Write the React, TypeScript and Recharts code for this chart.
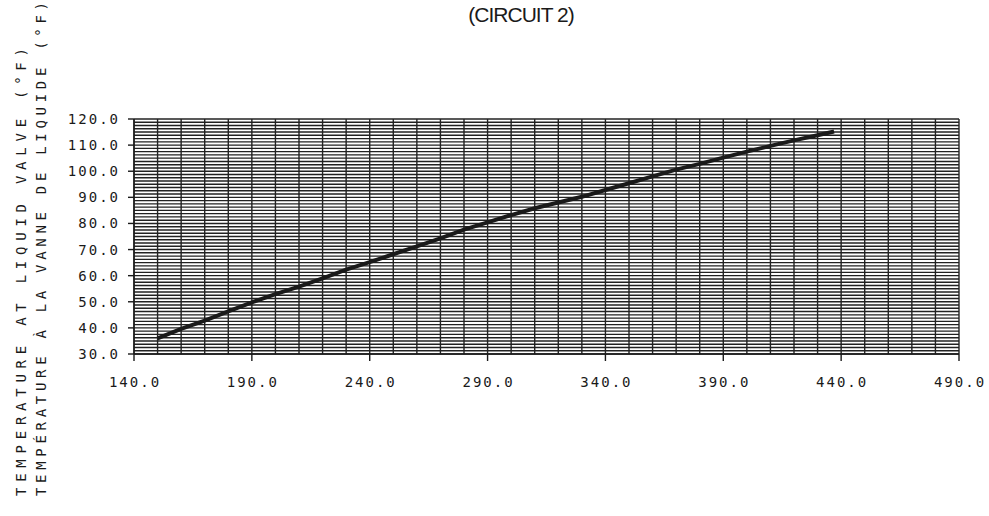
import { LineChart, Line, XAxis, YAxis, CartesianGrid } from "recharts";

// liquid line pressure vs temperature at liquid valve, circuit 2
const pressure = [150, 160, 170, 180, 190, 200, 210, 220, 230, 240, 250, 260, 270, 280, 290, 300, 310, 320, 330, 340, 350, 360, 370, 380, 390, 400, 410, 420, 430, 437];
const liquidTemp = [36.0, 39.6, 42.8, 46.3, 49.8, 52.9, 55.8, 59.0, 62.3, 65.2, 68.2, 71.2, 74.3, 77.6, 80.4, 83.2, 85.8, 88.0, 90.2, 92.8, 95.4, 98.0, 100.6, 102.8, 105.2, 107.5, 109.7, 111.8, 113.8, 115.2];

const xTicks = [140, 190, 240, 290, 340, 390, 440, 490];
const yTicks = [30, 40, 50, 60, 70, 80, 90, 100, 110, 120];
const xGrid = Array.from({ length: 36 }, (_, i) => 140 + i * 10);
const yGrid = Array.from({ length: 73 }, (_, i) => 30 + i * 1.25);

const title = "(CIRCUIT 2)";
const yLabelEn = "TEMPERATURE AT LIQUID VALVE (°F)";
const yLabelFr = "TEMPÉRATURE À LA VANNE DE LIQUIDE (°F)";

const data = pressure.map((p, i) => ({ p, t: liquidTemp[i] }));

const MONO = "'DejaVu Sans Mono', monospace";
const INK = "#1a1a1a";

const YTick = ({ x, y, payload }: any) => (
  <text x={x + 2} y={y} dy={5} textAnchor="end" fontFamily={MONO} fontSize={14} letterSpacing={2} fill={INK}>
    {Number(payload.value).toFixed(1)}
  </text>
);

const XTick = ({ x, y, payload }: any) => (
  <text x={x + 1} y={y} dy={12} textAnchor="middle" fontFamily={MONO} fontSize={14} letterSpacing={2} fill={INK}>
    {Number(payload.value).toFixed(1)}
  </text>
);

export default function App() {
  return (
    <div style={{ position: "fixed", left: 0, top: 0, width: 989, height: 516, background: "#fff" }}>
      <LineChart width={989} height={516} data={data} margin={{ top: 119, right: 30, bottom: 122, left: 0 }}>
        <CartesianGrid
          stroke="#222"
          strokeWidth={1.4}
          verticalValues={xGrid}
          horizontalValues={yGrid}
        />
        <XAxis
          dataKey="p"
          type="number"
          domain={[140, 490]}
          ticks={xTicks}
          interval={0}
          height={40}
          tickSize={7}
          tickMargin={14}
          stroke={INK}
          strokeWidth={1.4}
          tick={<XTick />}
        />
        <YAxis
          type="number"
          domain={[30, 120]}
          ticks={yTicks}
          interval={0}
          width={134}
          tickSize={6}
          tickMargin={10}
          stroke={INK}
          strokeWidth={1.4}
          tick={<YTick />}
        />
        <Line
          type="linear"
          dataKey="t"
          stroke={INK}
          strokeWidth={4}
          dot={false}
          isAnimationActive={false}
        />
      </LineChart>
      <svg width={989} height={516} style={{ position: "absolute", left: 0, top: 0, pointerEvents: "none" }}>
        <text x={521} y={22} textAnchor="middle" fontFamily="'Liberation Sans', Arial, sans-serif" fontSize={21} letterSpacing={-1} fill={INK}>
          {title}
        </text>
        <text
          transform="translate(26 496) rotate(-90)"
          fontFamily={MONO}
          fontSize={14}
          textLength={448}
          lengthAdjust="spacing"
          fill={INK}
        >
          {yLabelEn}
        </text>
        <text
          transform="translate(46 496) rotate(-90)"
          fontFamily={MONO}
          fontSize={14}
          textLength={494}
          lengthAdjust="spacing"
          fill={INK}
        >
          {yLabelFr}
        </text>
      </svg>
    </div>
  );
}
